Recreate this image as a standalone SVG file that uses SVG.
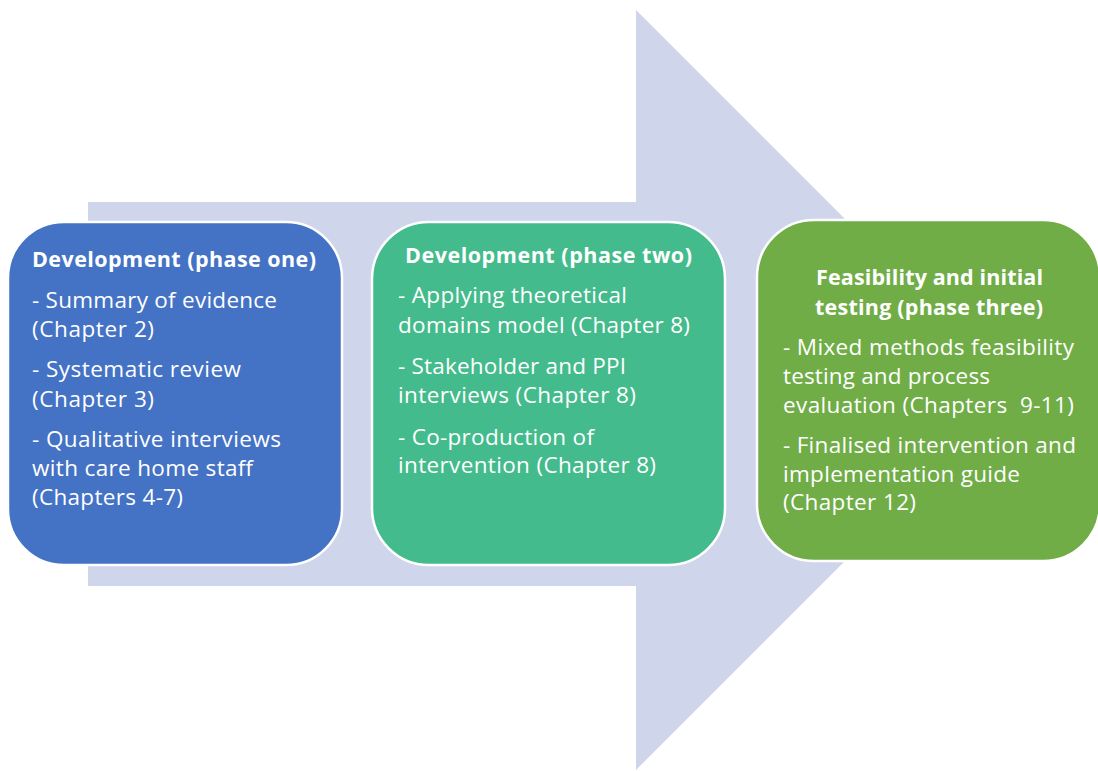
<svg xmlns="http://www.w3.org/2000/svg" width="1098" height="771" viewBox="0 0 1098 771">
<style>
.box{stroke:#FFFFFF;stroke-width:2.5}
text{font-family:"Open Sans","Liberation Sans",sans-serif;fill:#FFFFFF;font-size:22.5px}
.t{font-weight:bold;font-size:21.5px}
</style>
<rect width="1098" height="771" fill="#FFFFFF"/>
<g id="arrow">
<polygon points="88,202 636,202 636,10 1016,390 636,770 636,586 88,586" fill="#CFD5EA"/>
</g>
<g id="connectors"></g>
<g id="phase1">
<rect class="box" x="8" y="222" width="334" height="343" rx="56" ry="56" fill="#4472C4"/>
<text class="t" x="32" y="267" textLength="284">Development (phase one)</text>
<text x="32" y="308" textLength="245">- Summary of evidence</text>
<text x="32" y="337" textLength="122">(Chapter 2)</text>
<text x="32" y="377" textLength="209">- Systematic review</text>
<text x="32" y="407" textLength="122">(Chapter 3)</text>
<text x="32" y="447" textLength="249">- Qualitative interviews</text>
<text x="32" y="476" textLength="221">with care home staff</text>
<text x="32" y="505" textLength="151">(Chapters 4-7)</text>
</g>
<g id="phase2">
<rect class="box" x="372" y="222" width="353" height="343" rx="57" ry="57" fill="#44BB8C"/>
<text class="t" x="405" y="263" textLength="287">Development (phase two)</text>
<text x="398" y="303" textLength="229">- Applying theoretical</text>
<text x="398" y="333" textLength="292">domains model (Chapter 8)</text>
<text x="398" y="374" textLength="228">- Stakeholder and PPI</text>
<text x="398" y="403" textLength="238">interviews (Chapter 8)</text>
<text x="398" y="445" textLength="196">- Co-production of</text>
<text x="398" y="473" textLength="258">intervention (Chapter 8)</text>
</g>
<g id="phase3">
<rect class="box" x="757" y="220" width="343" height="341" rx="57" ry="57" fill="#70AD47"/>
<text class="t" x="816" y="285" textLength="227">Feasibility and initial</text>
<text class="t" x="815" y="315" textLength="228">testing (phase three)</text>
<text x="783" y="355" textLength="291">- Mixed methods feasibility</text>
<text x="783" y="384" textLength="207">testing and process</text>
<text x="783" y="413" textLength="291" xml:space="preserve">evaluation (Chapters  9-11)</text>
<text x="783" y="453" textLength="293">- Finalised intervention and</text>
<text x="783" y="482" textLength="237">implementation guide</text>
<text x="783" y="510" textLength="133">(Chapter 12)</text>
</g>
</svg>
